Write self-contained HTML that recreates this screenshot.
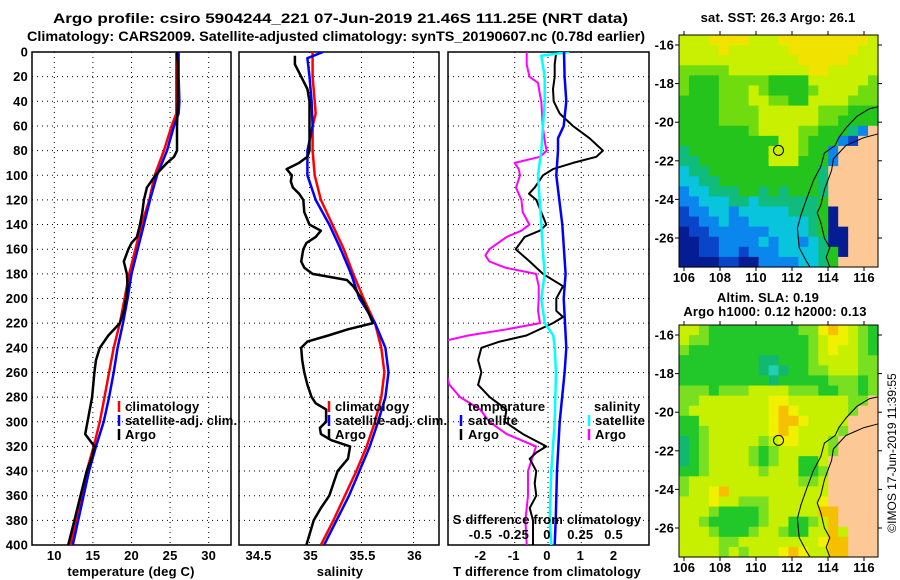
<!DOCTYPE html>
<html><head><meta charset="utf-8">
<style>
html,body{margin:0;padding:0;background:#fff;}
svg{display:block;font-family:"Liberation Sans",sans-serif;}
.t{font-weight:bold;font-size:14px;}
.l{font-weight:bold;font-size:13px;letter-spacing:0.2px;}
</style></head>
<body>
<svg id="fig" width="900" height="580" viewBox="0 0 900 580">
<text class="t" x="53" y="23" textLength="575" lengthAdjust="spacingAndGlyphs">Argo profile: csiro 5904244_221 07-Jun-2019 21.46S 111.25E (NRT data)</text>
<text class="t" x="27" y="41" textLength="618" lengthAdjust="spacingAndGlyphs">Climatology: CARS2009. Satellite-adjusted climatology: synTS_20190607.nc (0.78d earlier)</text>
<text class="l" x="778" y="22" text-anchor="middle">sat. SST: 26.3 Argo: 26.1</text>
<text class="l" x="768" y="302" text-anchor="middle">Altim. SLA: 0.19</text>
<text class="l" x="775" y="316" text-anchor="middle">Argo h1000: 0.12 h2000: 0.13</text>
<text x="0" y="0" font-size="12" text-anchor="middle" transform="translate(896,453) rotate(-90)">©IMOS 17-Jun-2019 11:39:55</text>
<g id="plots"></g>
</svg>
<script>
// ---- data ----
const depthTicks = [0,20,40,60,80,100,120,140,160,180,200,220,240,260,280,300,320,340,360,380,400];
const tTicks = [10,15,20,25,30];
const sTicks = [34.5,35,35.5,36];
const dTicks = [-2,-1,0,1,2];
const dsTicks = [-0.5,-0.25,0,0.25,0.5];

const climTDepth = [0,20,40,50,60,80,100,120,140,160,180,200,220,240,260,280,300,320,340,360,380,400];
const climT = [25.8,25.8,25.8,25.8,25.2,24.2,23.0,22.3,21.3,20.5,19.7,19.1,18.5,17.7,17.1,16.5,15.9,15.1,14.2,13.5,12.8,12.1];
const satT = [26.1,26.1,26.2,26.1,25.5,24.6,23.3,22.4,21.6,20.8,20.0,19.5,18.9,18.2,17.7,17.1,16.4,15.4,14.5,13.8,13.1,12.4];
const argoTDepth = [0,10,20,40,60,80,85,90,100,110,120,130,140,150,155,160,170,180,190,200,210,220,230,240,250,260,280,300,310,320,330,340,360,380,400];
const argoT = [25.9,26.0,26.0,26.0,25.9,25.9,25.5,24.6,23.1,22.0,21.6,21.4,21.1,20.7,20.0,19.6,19.0,19.4,19.5,19.3,19.0,18.5,17.0,15.9,15.4,15.2,14.9,14.3,14.0,15.2,14.8,14.2,13.4,12.6,11.8];

const climS = [35.03,35.03,35.05,35.06,35.03,35.03,35.05,35.11,35.22,35.33,35.42,35.52,35.63,35.69,35.72,35.69,35.63,35.55,35.45,35.34,35.23,35.11];
const satSDepth = [0,5,20,40,60,80,100,120,140,160,180,200,220,240,260,280,300,320,340,360,380,400];
const satS = [35.13,34.98,35.0,35.02,35.03,34.98,34.98,35.06,35.19,35.30,35.40,35.48,35.63,35.73,35.76,35.73,35.66,35.58,35.48,35.38,35.26,35.14];
const argoSDepth = [3,10,20,30,40,50,80,85,90,95,100,105,110,115,120,130,140,145,150,155,160,170,175,180,185,190,200,210,220,225,230,235,240,250,260,270,280,285,290,300,305,310,315,320,330,340,360,370,380,400];
const argoS = [34.86,34.86,34.92,34.98,35.0,35.0,35.0,34.98,34.90,34.78,34.83,34.82,34.84,34.90,34.94,34.95,35.0,35.11,35.06,34.97,34.94,34.92,34.95,35.03,35.36,35.42,35.5,35.56,35.61,35.37,35.18,34.98,34.92,34.93,34.95,34.98,35.02,35.06,35.16,35.16,35.10,35.11,35.21,35.39,35.37,35.27,35.19,35.11,35.04,34.97];

const dTempSatDepth = [0,20,40,60,70,80,100,140,180,200,240,260,300,340,380,400];
const dTempSat = [0.48,0.5,0.55,0.47,0.3,0.3,0.25,0.43,0.53,0.47,0.55,0.5,0.35,0.27,0.23,0.2];
const dTempArgoDepth = [0,10,20,30,40,50,60,70,80,85,90,95,100,110,115,120,130,140,145,150,160,170,180,190,200,210,215,220,230,235,240,250,260,270,280,290,300,310,320,325,330,340,350,360,370,380,400];
const dTempArgo = [0.25,0.2,0.2,0.15,0.17,0.35,0.75,1.25,1.65,1.45,0.75,0.15,-0.15,-0.4,-0.57,-0.35,-0.2,-0.05,-0.25,-0.7,-0.97,-0.55,-0.15,0.45,0.25,0.25,0.45,0.15,-0.65,-1.45,-2.0,-2.1,-2.0,-2.1,-1.75,-1.25,-1.3,-0.75,-0.05,-0.35,-0.55,-0.35,-0.4,-0.35,-0.55,-0.45,-0.45];
const dSalSatDepth = [0,3,10,20,40,80,100,140,160,180,200,220,230,240,260,300,340,380,400];
const dSalSat = [0.16,-0.05,-0.04,-0.025,-0.025,-0.05,-0.075,-0.05,-0.04,-0.025,-0.05,-0.025,0.04,0.05,0.06,0.05,0.025,0.013,0.025];
const dSalArgoDepth = [0,10,20,25,35,40,60,75,80,85,90,95,100,110,120,130,140,145,150,160,165,170,175,180,190,200,210,220,225,230,235,250,270,280,290,300,310,320,340,360,380,400];
const dSalArgo = [-0.16,-0.16,-0.14,-0.075,-0.06,-0.05,-0.04,-0.02,-0.01,-0.06,-0.25,-0.22,-0.21,-0.24,-0.2,-0.19,-0.14,-0.2,-0.31,-0.44,-0.47,-0.44,-0.32,-0.09,-0.07,-0.07,-0.075,-0.06,-0.31,-0.6,-0.8,-0.8,-0.74,-0.66,-0.51,-0.44,-0.31,-0.09,-0.15,-0.15,-0.17,-0.16];

// map grids (color-class codes per cell)
const sstGrid = [
"LLLYYYYLLLYYYYYYYYYL","LLLLYLLLLLLYYYYYYYLL","LLLLLLLLLLLLYYYYYLLL","GGGGGLLLLLLLLYYLLLLL",
"GgggGGGGGggggLLLLLLG","GgggGGGLGggggGLLLLGG","ggggGGGLLGGggLLLLGGG","ggggGGGGLLLLLLGGGggg",
"ggggGGGGLLLLLLGGgggg","gggggggGLLLLGGgggcbS","ggggggggggLLGgggbBSS","cggggggggLLLGggbSSSS",
"ccgggggggLLLgggbSSSS","tccgggggggggggcSSSSS","ttccggggggggggcSSSSS","bttcccggcgcgggcSSSSS",
"bbtttcctccccccgSSSSS","BbbttbtttttcccgNSSSS","BBbbtbbttttttcgNSSSS","NBBbbbbbbttttcgNNSSS",
"NNBBbbbbtbttbtcNNSSS","NNBBbbBbbbttttcgNSSS","NNNNBBNNbbbbttcgSSSS"];
const slaGrid = [
"LLgGGGGGGGGGggYOYLgG","LggGGGGGGGGGGgLYYLgG","gGGGGGGGGGGGGgLYLLgG","GGGGGGGGccGGGgLLLLgg",
"GGGGGGGGctcGGggLLLgg","GGGGGGGGGcGGGGGgggGg","gggGgggLLLLgggGGggGg","ggLLLLLLLYYLLLLLLggS",
"gLLLLLLLLYOYLLLLLgSS","GGLLLLLLLYOOYLLLLSSS","GGgLLLLLLYOYLLLLgSSS","cGgLLLLLgLYYLLLgSSSS",
"cGgLLLLgGgLLLLLgSSSS","cGgLLLLgGgLLGGLSSSSS","GGgLLLLLgLLLGGgSSSSS","gLLLLLLLLLLLggLSSSSS",
"gLLYOLLLLLLLLLLSSSSS","LLLYLLgggLLLLLYSSSSS","LLLgGGGGgLLLLLOOSSSS","LLgGGGGGgLLGGgLOSSSS",
"LLLgGGGgLLgGGLLOLSSS","LLLLggLLLLLLLLYOOSSS","LLLLgLgLLLYOYLLOOSSS"];
const mapLatTicks = [-16,-18,-20,-22,-24,-26];
const mapLonTicks = [106,108,110,112,114,116];
const coastLon = [116.8,116,115.5,115,114.6,114.3,114.2,114.0,113.8,113.6,113.4,113.6,113.8,114.1,113.9,114.1];
const coastLat = [-20.6,-20.8,-21.0,-21.2,-21.6,-21.9,-22.5,-23.0,-23.5,-24.3,-24.7,-25.2,-26.0,-26.5,-27.0,-27.5];
const isoLon = [116.8,116.3,115.6,115.0,114.6,114.4,113.8,113.6,113.2,112.8,112.5,112.3,112.4,112.8,113.0];
const isoLat = [-19.2,-19.3,-19.7,-20.3,-20.8,-21.2,-21.6,-22.3,-23.0,-24.0,-24.8,-25.5,-26.5,-27.2,-27.5];
const argoLon = 111.25, argoLat = -21.46;

// ---- drawing ----
const NS='http://www.w3.org/2000/svg';
const G=document.getElementById('plots');
function mk(tag,attrs,parent){const e=document.createElementNS(NS,tag);for(const k in attrs)e.setAttribute(k,attrs[k]);(parent||G).appendChild(e);return e;}
const Y0=52, Y1=545;
const yD = d => Y0 + d*(Y1-Y0)/400;
const xT = t => 54.3 + (t-10)*7.72;
const xS = s => 309.5 + (s-35)*104;
const xDT = v => 548 + v*33.3;
const xDS = v => 548 + v*4*33.3;

function frame(x0,x1,name){
  const r=mk('rect',{x:x0,y:Y0,width:x1-x0,height:Y1-Y0,fill:'none',stroke:'#000','stroke-width':1.5});
  
  
  depthTicks.forEach(d=>{ if(d>0&&d<400){const l=mk('line',{x1:x0,x2:x1,y1:yD(d),y2:yD(d),stroke:'#000','stroke-dasharray':'1 4'});
    
    }});
}
function vgrid(xs,name){xs.forEach(x=>{const l=mk('line',{x1:x,x2:x,y1:Y0,y2:Y1,stroke:'#000','stroke-dasharray':'1 4'});
  
  });}
function txt(x,y,s,anchor,name,cls){const t=mk('text',{x:x,y:y,'text-anchor':anchor||'start',class:cls||'l'});t.textContent=s;
  
  return t;}
function legMark(x,y,color,name){const l=mk('line',{x1:x,x2:x,y1:y-10,y2:y+1,stroke:color,'stroke-width':2.5});
  
  }
function lineIn(g,depths,vals,xf,color,w,name){
  const pts=depths.map((d,i)=>xf(vals[i]).toFixed(1)+','+yD(d).toFixed(1)).join(' ');
  const p=mk('polyline',{points:pts,fill:'none',stroke:color,'stroke-width':w,'stroke-linejoin':'round'},g);
  
  
}

// clip paths
const defs=mk('defs',{});
[[32,231,'c1'],[239,439,'c2'],[448,649,'c3']].forEach(([a,b,id])=>{const cp=mk('clipPath',{id:id},defs);mk('rect',{x:a,y:Y0,width:b-a,height:Y1-Y0},cp);});

// Panel 1
frame(32,231,'temperature-panel');
vgrid(tTicks.map(xT),'temperature-gridline');
depthTicks.forEach(d=>txt(28,yD(d)+4.5,String(d),'end','depth-tick-label'));
tTicks.forEach(t=>txt(xT(t),560,String(t),'middle','temperature-tick-label'));
txt(131,576,'temperature (deg C)','middle','temperature-axis-title');
const g1=mk('g',{'clip-path':'url(#c1)'});
lineIn(g1,climTDepth,climT,xT,'#f00',2.5,'climatology-temperature-line');
lineIn(g1,climTDepth,satT,xT,'#00f',2.5,'satellite-temperature-line');
lineIn(g1,argoTDepth,argoT,xT,'#000',2.5,'argo-temperature-line');
legMark(119,411,'#f00','legend-climatology-marker');txt(125,411,'climatology','start','legend-climatology');
legMark(119,425,'#00f','legend-satellite-marker');txt(125,425,'satellite-adj. clim.','start','legend-satellite');
legMark(119,439,'#000','legend-argo-marker');txt(125,439,'Argo','start','legend-argo');

// Panel 2
frame(239,439,'salinity-panel');
vgrid(sTicks.filter(s=>s>34.6).map(xS),'salinity-gridline');
sTicks.forEach(s=>txt(xS(s)+1,560,String(s),'middle','salinity-tick-label'));
txt(340,576,'salinity','middle','salinity-axis-title');
const g2=mk('g',{'clip-path':'url(#c2)'});
lineIn(g2,climTDepth,climS,xS,'#f00',2.5,'climatology-salinity-line');
lineIn(g2,satSDepth,satS,xS,'#00f',2.5,'satellite-salinity-line');
lineIn(g2,argoSDepth,argoS,xS,'#000',2.5,'argo-salinity-line');
legMark(329,411,'#f00','legend2-climatology-marker');txt(335,411,'climatology','start','legend2-climatology');
legMark(329,425,'#00f','legend2-satellite-marker');txt(335,425,'satellite-adj. clim.','start','legend2-satellite');
legMark(329,439,'#000','legend2-argo-marker');txt(335,439,'Argo','start','legend2-argo');

// Panel 3
frame(448,649,'difference-panel');
vgrid([xDT(-1),xDT(0),xDT(1)],'difference-gridline');
dTicks.forEach(v=>txt(xDT(v)-1,560,String(v),'middle','t-diff-tick-label'));
txt(547,576,'T difference from climatology','middle','t-diff-axis-title');
const g3=mk('g',{'clip-path':'url(#c3)'});
lineIn(g3,dSalArgoDepth,dSalArgo,xDS,'#f0f',2,'argo-salinity-diff-line');
lineIn(g3,dTempArgoDepth,dTempArgo,xDT,'#000',2,'argo-temperature-diff-line');
lineIn(g3,dSalSatDepth,dSalSat,xDS,'#0ff',2.5,'satellite-salinity-diff-line');
lineIn(g3,dTempSatDepth,dTempSat,xDT,'#00f',2.5,'satellite-temperature-diff-line');
txt(547,524,'S difference from climatology','middle','s-diff-axis-title');
dsTicks.forEach(v=>txt(xDS(v)-1,539,String(v),'middle','s-diff-tick-label'));
txt(468,411,'temperature','start','legend3-temperature-header');
legMark(461,425,'#00f','legend3-temp-satellite-marker');txt(468,425,'satellite','start','legend3-temp-satellite');
legMark(461,439,'#000','legend3-temp-argo-marker');txt(468,439,'Argo','start','legend3-temp-argo');
txt(594,411,'salinity','start','legend3-salinity-header');
legMark(589,425,'#0ff','legend3-sal-satellite-marker');txt(595,425,'satellite','start','legend3-sal-satellite');
legMark(589,439,'#f0f','legend3-sal-argo-marker');txt(595,439,'Argo','start','legend3-sal-argo');

// Maps
const pal={Y:'#f2e200',O:'#f4b400',L:'#c8f000',G:'#70dc10',g:'#24c41c',c:'#10bc7c',t:'#08c4dc',b:'#0a86ec',B:'#0a44c8',N:'#061c92',S:'#fcc896'};
const slaPal={Y:'#f0f000',O:'#f4c000',L:'#c6f000',G:'#22c82a',g:'#78e020',c:'#10b870',t:'#20d0b0',S:'#fcc896'};
function drawMap(top,grid,palette,name){
  const x0=679,x1=878,y1=top+232;
  const lonX=lon=>684+(lon-106)*18, latY=lat=>top+10+(-16-lat)*19.3;
  const gm=mk('g',{});
  
  
  const cw=(x1-x0)/20, ch=232/grid.length;
  grid.forEach((row,r)=>{for(let c=0;c<20;c++){mk('rect',{x:(x0+c*cw).toFixed(2),y:(top+r*ch).toFixed(2),width:(cw+0.6).toFixed(2),height:(ch+0.6).toFixed(2),fill:palette[row[c]]||'#fcc896'},gm);}});
  const cp=coastLon.map((l,i)=>lonX(l).toFixed(1)+','+latY(coastLat[i]).toFixed(1)).join(' ');
  const cl=mk('polyline',{points:cp,fill:'none',stroke:'#000','stroke-width':1},gm);
  
  
  const ip=isoLon.map((l,i)=>lonX(l).toFixed(1)+','+latY(isoLat[i]).toFixed(1)).join(' ');
  const il=mk('polyline',{points:ip,fill:'none',stroke:'#000','stroke-width':1},gm);
  
  
  const ci=mk('circle',{cx:lonX(argoLon),cy:latY(argoLat),r:5,fill:'none',stroke:'#000','stroke-width':1},gm);
  
  
  const fr=mk('rect',{x:x0,y:top,width:x1-x0,height:232,fill:'none',stroke:'#000','stroke-width':1},gm);
  
  
  mapLatTicks.forEach(l=>{const y=latY(l);mk('line',{x1:x0-4,x2:x0,y1:y,y2:y,stroke:'#000'},gm);mk('line',{x1:x1,x2:x1+4,y1:y,y2:y,stroke:'#000'},gm);
    txt(674,y+4.5,String(l),'end','map-lat-label');});
  mapLonTicks.forEach(l=>{const x=lonX(l);mk('line',{x1:x,x2:x,y1:top-4,y2:top,stroke:'#000'},gm);mk('line',{x1:x,x2:x,y1:y1,y2:y1+4,stroke:'#000'},gm);
    txt(x,y1+15,String(l),'middle','map-lon-label');});
}
drawMap(35,sstGrid,pal,'sst-map');
drawMap(325,slaGrid,slaPal,'sla-map');
</script>
</body></html>
